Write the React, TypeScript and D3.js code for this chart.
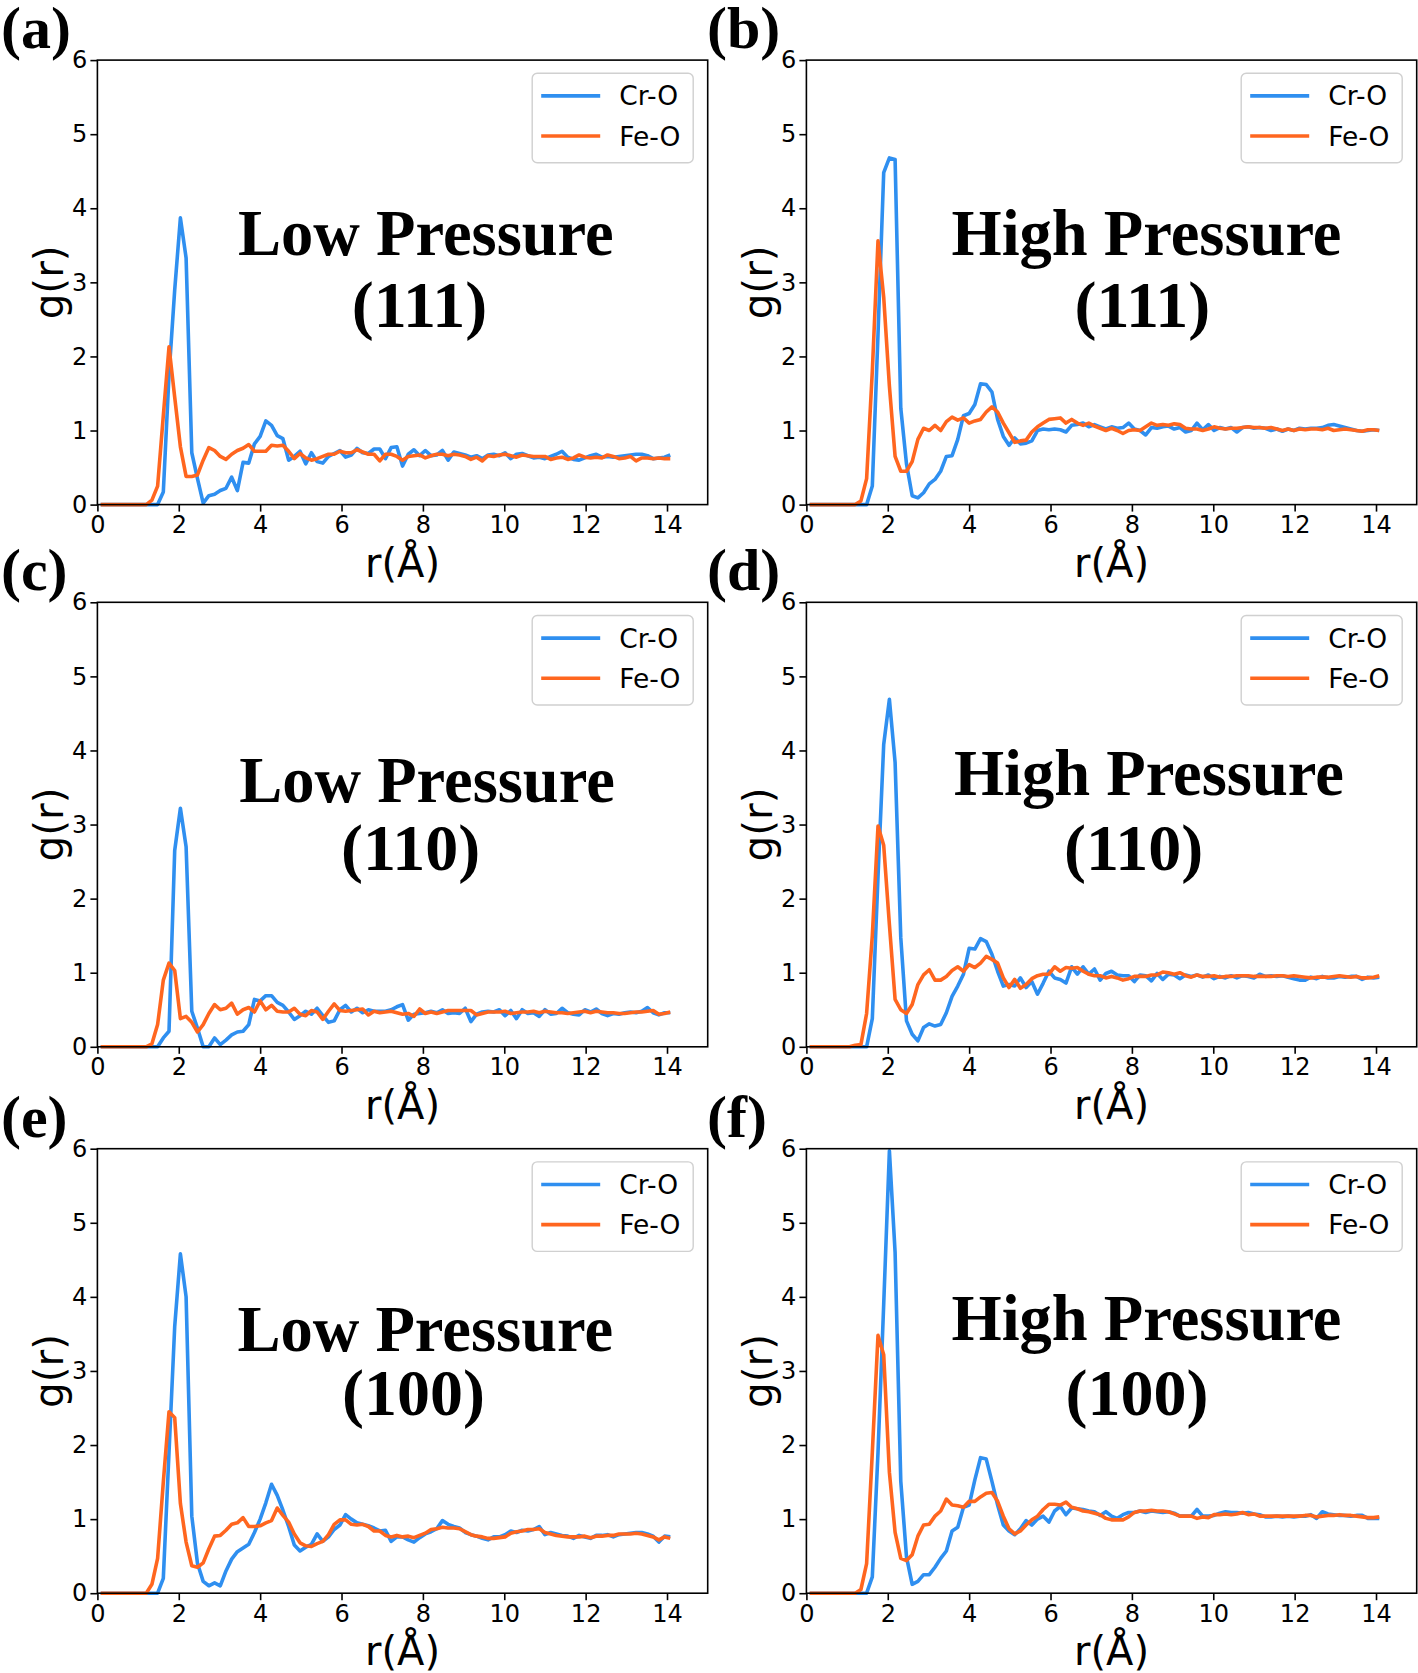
import React, { useEffect, useRef } from 'react';
import * as d3 from 'd3';

// radial grid of the g(r) histograms (bin spacing 0.14 Å)
const rGrid = d3.range(101).map((i) => +(0.08 + 0.14 * i).toFixed(2));

// (a) Low Pressure (111)
const crO_a = [
  0, 0, 0, 0, 0, 0, 0, 0, 0, 0,
  0, 0.17, 1.75, 2.9, 3.87, 3.33, 0.7, 0.35, 0.02, 0.12,
  0.14, 0.19, 0.22, 0.37, 0.19, 0.57, 0.56, 0.82, 0.92, 1.13,
  1.07, 0.93, 0.89, 0.6, 0.65, 0.72, 0.55, 0.7, 0.58, 0.56,
  0.65, 0.69, 0.73, 0.64, 0.67, 0.76, 0.7, 0.69, 0.75, 0.75,
  0.62, 0.77, 0.78, 0.52, 0.68, 0.74, 0.66, 0.73, 0.66, 0.67,
  0.73, 0.6, 0.71, 0.69, 0.67, 0.64, 0.66, 0.62, 0.67, 0.68,
  0.66, 0.7, 0.62, 0.68, 0.69, 0.66, 0.63, 0.64, 0.62, 0.65,
  0.68, 0.72, 0.64, 0.61, 0.6, 0.63, 0.66, 0.68, 0.64, 0.65,
  0.64, 0.65, 0.66, 0.67, 0.68, 0.68, 0.66, 0.62, 0.63, 0.64,
  0.67,
];
const feO_a = [
  0, 0, 0, 0, 0, 0, 0, 0, 0, 0.06,
  0.25, 1.2, 2.13, 1.45, 0.78, 0.38, 0.38, 0.4, 0.6, 0.77,
  0.73, 0.65, 0.61, 0.68, 0.73, 0.76, 0.81, 0.72, 0.72, 0.72,
  0.8, 0.79, 0.8, 0.72, 0.62, 0.69, 0.63, 0.6, 0.62, 0.65,
  0.68, 0.68, 0.72, 0.7, 0.7, 0.74, 0.71, 0.68, 0.68, 0.59,
  0.68, 0.68, 0.65, 0.6, 0.65, 0.66, 0.67, 0.63, 0.66, 0.68,
  0.68, 0.66, 0.68, 0.67, 0.65, 0.61, 0.64, 0.59, 0.66, 0.65,
  0.67, 0.68, 0.66, 0.64, 0.67, 0.66, 0.65, 0.65, 0.65, 0.61,
  0.63, 0.64, 0.61, 0.63, 0.67, 0.64, 0.63, 0.64, 0.63, 0.67,
  0.65, 0.62, 0.63, 0.65, 0.59, 0.63, 0.63, 0.62, 0.63, 0.62,
  0.62,
];

// (b) High Pressure (111)
const crO_b = [
  0, 0, 0, 0, 0, 0, 0, 0, 0, 0,
  0, 0.25, 2.3, 4.48, 4.68, 4.66, 1.3, 0.55, 0.12, 0.09,
  0.16, 0.28, 0.34, 0.45, 0.65, 0.66, 0.88, 1.2, 1.23, 1.35,
  1.63, 1.62, 1.52, 1.15, 0.92, 0.8, 0.9, 0.82, 0.83, 0.86,
  1.0, 1.02, 1.01, 1.02, 1.01, 0.98, 1.07, 1.08, 1.1, 1.05,
  1.08, 1.05, 1.02, 1.05, 1.03, 1.04, 1.1, 1.02, 1.0, 0.94,
  1.04, 1.03, 1.05, 1.06, 1.02, 1.04, 0.98, 1.0, 1.1, 1.01,
  1.08, 1.0, 1.04, 1.02, 1.04, 0.98, 1.04, 1.05, 1.03, 1.04,
  1.03, 1.0, 1.02, 0.99, 1.02, 1.0, 1.03, 1.02, 1.03, 1.03,
  1.04, 1.07, 1.08, 1.06, 1.04, 1.02, 1.0, 0.99, 1.0, 1.01,
  1.0,
];
const feO_b = [
  0, 0, 0, 0, 0, 0, 0, 0, 0, 0.05,
  0.35, 1.8, 3.56, 2.8, 1.6, 0.65, 0.45, 0.45, 0.58, 0.88,
  1.03, 1.0, 1.07, 1.0, 1.12, 1.18, 1.14, 1.17, 1.1, 1.13,
  1.15, 1.25, 1.32, 1.25, 1.1, 0.97, 0.84, 0.86, 0.87, 0.98,
  1.05, 1.1, 1.15, 1.16, 1.17, 1.1, 1.15, 1.1, 1.07, 1.1,
  1.06, 1.03, 1.0, 1.03, 1.0, 0.96, 1.0, 1.01, 1.0, 1.05,
  1.1, 1.07, 1.08, 1.07, 1.09, 1.08, 1.03, 1.02, 1.02, 1.0,
  1.02, 1.05, 1.03, 1.02, 1.03, 1.03, 1.04, 1.05, 1.04, 1.04,
  1.03, 1.04, 1.02, 1.0, 1.02, 1.0, 1.02, 1.01, 1.02, 1.02,
  1.01, 1.03, 1.0, 1.01, 1.02, 1.01, 1.0, 0.99, 1.01, 1.01,
  1.0,
];

// (c) Low Pressure (110)
const crO_c = [
  0, 0, 0, 0, 0, 0, 0, 0, 0, 0,
  0, 0.12, 0.21, 2.65, 3.22, 2.7, 0.48, 0.25, 0, 0,
  0.12, 0.03, 0.09, 0.16, 0.2, 0.21, 0.3, 0.64, 0.62, 0.69,
  0.69, 0.6, 0.56, 0.47, 0.37, 0.42, 0.48, 0.44, 0.52, 0.42,
  0.33, 0.35, 0.5, 0.56, 0.47, 0.52, 0.46, 0.5, 0.48, 0.48,
  0.48, 0.5, 0.54, 0.57, 0.36, 0.44, 0.45, 0.46, 0.48, 0.46,
  0.5, 0.45, 0.46, 0.45, 0.52, 0.34, 0.44, 0.47, 0.48, 0.47,
  0.5, 0.42, 0.49, 0.38, 0.5, 0.45, 0.46, 0.41, 0.5, 0.44,
  0.45, 0.52, 0.46, 0.44, 0.43, 0.5, 0.47, 0.51, 0.45, 0.42,
  0.45, 0.44, 0.46, 0.47, 0.46, 0.48, 0.53, 0.46, 0.43, 0.46,
  0.46,
];
const feO_c = [
  0, 0, 0, 0, 0, 0, 0, 0, 0, 0.04,
  0.3, 0.9, 1.13, 1.03, 0.38, 0.41, 0.33, 0.2, 0.3, 0.45,
  0.57, 0.5, 0.52, 0.59, 0.44, 0.5, 0.53, 0.47, 0.62, 0.5,
  0.56, 0.48, 0.47, 0.47, 0.52, 0.44, 0.42, 0.49, 0.47, 0.37,
  0.48, 0.58, 0.49, 0.48, 0.49, 0.5, 0.51, 0.43, 0.48, 0.46,
  0.47, 0.48, 0.46, 0.44, 0.45, 0.41, 0.51, 0.45, 0.47, 0.45,
  0.47, 0.49, 0.49, 0.49, 0.49, 0.49, 0.43, 0.45, 0.47, 0.47,
  0.47, 0.48, 0.45, 0.46, 0.47, 0.47, 0.48, 0.46, 0.48, 0.47,
  0.46, 0.46, 0.45, 0.46, 0.47, 0.48, 0.46, 0.48, 0.47, 0.46,
  0.46, 0.45, 0.45, 0.46, 0.47, 0.47, 0.48, 0.49, 0.44, 0.45,
  0.47,
];

// (d) High Pressure (110)
const crO_d = [
  0, 0, 0, 0, 0, 0, 0, 0, 0, 0,
  0, 0.38, 2.3, 4.08, 4.69, 3.84, 1.47, 0.35, 0.17, 0.08,
  0.26, 0.31, 0.28, 0.3, 0.46, 0.68, 0.82, 0.98, 1.33, 1.32,
  1.46, 1.42, 1.25, 1.02, 0.82, 0.84, 0.82, 0.93, 0.8, 0.88,
  0.71, 0.86, 1.02, 0.93, 0.91, 0.86, 1.08, 0.98, 1.08, 0.98,
  1.05, 0.9, 0.99, 1.02, 0.97, 0.96, 0.96, 0.88, 0.97, 0.96,
  0.89, 0.99, 0.91, 0.98, 0.97, 0.92, 0.97, 0.95, 0.97, 0.94,
  0.97, 0.92, 0.95, 0.93, 0.96, 0.93, 0.96, 0.95, 0.93, 0.98,
  0.95, 0.96, 0.95, 0.96, 0.94, 0.92, 0.9, 0.9, 0.94, 0.92,
  0.95, 0.93, 0.93, 0.95, 0.94, 0.95, 0.95, 0.91, 0.94, 0.93,
  0.94,
];
const feO_d = [
  0, 0, 0, 0, 0, 0, 0, 0, 0.02, 0.03,
  0.45, 1.5, 2.98, 2.72, 1.65, 0.64, 0.5, 0.45, 0.57, 0.84,
  0.97, 1.04, 0.9, 0.9, 0.95, 1.03, 1.08, 1.02, 1.11, 1.07,
  1.13, 1.22, 1.18, 1.13, 0.93, 0.8, 0.91, 0.79, 0.84, 0.92,
  0.96, 0.98, 0.98, 1.08, 1.02, 1.07, 1.06, 1.07, 1.02, 0.98,
  0.96, 0.96, 0.93, 0.95, 0.93, 0.9, 0.92, 0.95, 0.95, 0.95,
  0.97, 0.97, 1.01, 1.0, 0.98, 1.0, 0.96, 0.94, 0.97, 0.95,
  0.95, 0.96, 0.94, 0.95, 0.95, 0.96, 0.96, 0.96, 0.95, 0.95,
  0.95, 0.95, 0.96, 0.96, 0.95, 0.96, 0.95, 0.94, 0.93, 0.94,
  0.94, 0.94, 0.95, 0.96, 0.95, 0.94, 0.95, 0.93, 0.93, 0.94,
  0.96,
];

// (e) Low Pressure (100)
const crO_e = [
  0, 0, 0, 0, 0, 0, 0, 0, 0, 0,
  0, 0.2, 1.9, 3.6, 4.58, 4.0, 1.04, 0.4, 0.16, 0.1,
  0.14, 0.1, 0.3, 0.46, 0.56, 0.61, 0.66, 0.82, 1.0, 1.22,
  1.47, 1.32, 1.12, 0.9, 0.65, 0.57, 0.62, 0.66, 0.8, 0.7,
  0.76, 0.86, 0.92, 1.06, 1.0, 0.95, 0.93, 0.91, 0.88, 0.84,
  0.85, 0.7, 0.76, 0.76, 0.72, 0.69, 0.75, 0.8, 0.83, 0.87,
  0.98, 0.93, 0.9, 0.88, 0.82, 0.79, 0.77, 0.74, 0.72, 0.76,
  0.76, 0.79, 0.84, 0.82, 0.85, 0.84, 0.86, 0.9, 0.79, 0.82,
  0.8, 0.78, 0.77, 0.74, 0.78, 0.76, 0.74, 0.78, 0.78, 0.79,
  0.76, 0.79, 0.8, 0.81, 0.82, 0.82, 0.8, 0.77, 0.69, 0.77,
  0.76,
];
const feO_e = [
  0, 0, 0, 0, 0, 0, 0, 0, 0, 0.12,
  0.47, 1.5, 2.45, 2.37, 1.21, 0.69, 0.37, 0.35, 0.41, 0.6,
  0.77, 0.78, 0.85, 0.93, 0.95, 1.02, 0.9, 0.9, 0.91, 0.95,
  0.98, 1.15, 1.05, 0.96, 0.8, 0.68, 0.64, 0.63, 0.67, 0.7,
  0.79, 0.93, 0.99, 0.99, 0.93, 0.92, 0.93, 0.9, 0.84, 0.84,
  0.78, 0.76, 0.78, 0.76, 0.77, 0.75, 0.78, 0.81, 0.86, 0.87,
  0.89, 0.88, 0.88, 0.87, 0.83, 0.79, 0.77, 0.76, 0.74, 0.74,
  0.75, 0.76, 0.81, 0.83, 0.84, 0.86, 0.86, 0.87, 0.82, 0.8,
  0.78, 0.77, 0.76, 0.76, 0.76, 0.77, 0.75, 0.77, 0.77, 0.78,
  0.78, 0.8, 0.8, 0.8, 0.81, 0.8, 0.78, 0.76, 0.72, 0.76,
  0.74,
];

// (f) High Pressure (100)
const crO_f = [
  0, 0, 0, 0, 0, 0, 0, 0, 0, 0,
  0, 0.22, 1.9, 3.9, 5.97, 4.6, 1.51, 0.49, 0.12, 0.16,
  0.25, 0.25, 0.35, 0.47, 0.57, 0.84, 0.89, 1.16, 1.19, 1.53,
  1.83, 1.81, 1.51, 1.19, 0.92, 0.84, 0.79, 0.87, 0.98, 0.92,
  1.0, 1.04, 0.96, 1.11, 1.17, 1.06, 1.15, 1.14, 1.13, 1.11,
  1.1, 1.05, 1.1, 1.04, 1.01, 1.06, 1.09, 1.09, 1.11, 1.09,
  1.11, 1.1, 1.09, 1.1, 1.08, 1.04, 1.04, 1.04, 1.13, 1.04,
  1.04, 1.05, 1.08, 1.1, 1.09, 1.09, 1.08, 1.09, 1.07, 1.06,
  1.03, 1.03, 1.04, 1.03, 1.04, 1.03, 1.04, 1.04, 1.06, 1.01,
  1.1, 1.07, 1.06, 1.05, 1.05, 1.04, 1.05, 1.05, 1.01, 1.01,
  1.01,
];
const feO_f = [
  0, 0, 0, 0, 0, 0, 0, 0, 0, 0.05,
  0.4, 1.9, 3.48, 3.22, 1.63, 0.82, 0.47, 0.44, 0.52, 0.77,
  0.92, 0.93, 1.04, 1.11, 1.27, 1.19, 1.18, 1.16, 1.24, 1.24,
  1.3, 1.35, 1.36, 1.24, 1.04, 0.87, 0.8, 0.84, 0.92, 0.99,
  1.04, 1.13, 1.2, 1.2, 1.19, 1.23, 1.16, 1.14, 1.11, 1.1,
  1.08, 1.06, 1.01, 0.99, 0.99, 0.99, 1.03, 1.09, 1.11, 1.11,
  1.12, 1.11, 1.11, 1.1, 1.07, 1.04, 1.04, 1.04, 1.01, 1.03,
  1.02, 1.06, 1.06, 1.07, 1.06, 1.07, 1.09, 1.06, 1.07, 1.04,
  1.04, 1.04, 1.04, 1.04, 1.04, 1.04, 1.04, 1.05, 1.05, 1.03,
  1.04, 1.05, 1.05, 1.06, 1.05, 1.05, 1.04, 1.03, 1.02, 1.02,
  1.03,
];

const panelLetters = ['(a)', '(b)', '(c)', '(d)', '(e)', '(f)'];
const titleLine1 = ['Low Pressure', 'High Pressure', 'Low Pressure', 'High Pressure', 'Low Pressure', 'High Pressure'];
const titleLine2 = ['(111)', '(111)', '(110)', '(110)', '(100)', '(100)'];
const seriesNames = ['Cr-O', 'Fe-O'];
const xTicks = [0, 2, 4, 6, 8, 10, 12, 14];
const yTicks = [0, 1, 2, 3, 4, 5, 6];

const crOSeries = [crO_a, crO_b, crO_c, crO_d, crO_e, crO_f];
const feOSeries = [feO_a, feO_b, feO_c, feO_d, feO_e, feO_f];

// layout (px)
const colLeft = [97.4, 806.4];
const rowTop = [60.1, 602.3, 1148.7];
const W = 610.3;
const H = 444.5;
// [line1 cx, line1 baseline, line2 cx, line2 baseline] relative to axes
const titlePos = [
  [328.5, 194.6, 322.1, 267.3],
  [340.1, 194.6, 336.0, 267.3],
  [329.6, 199.4, 313.3, 267.7],
  [342.5, 192.7, 327.3, 267.7],
  [327.9, 202.0, 316.1, 266.2],
  [340.1, 191.1, 330.6, 266.2],
];
const colors = ['#2f8ff0', '#ff661f'];
const sans = 'DejaVu Sans';
const serif = 'Liberation Serif';

const App = () => {
  const ref = useRef<SVGSVGElement>(null);

  useEffect(() => {
    const svg = d3.select(ref.current);
    svg.selectAll('*').remove();

    panelLetters.forEach((letter, k) => {
      const col = k % 2;
      const row = Math.floor(k / 2);
      const g = svg
        .append('g')
        .attr('transform', 'translate(' + colLeft[col] + ',' + rowTop[row] + ')');

      const x = d3.scaleLinear().domain([0, 15]).range([0, W]);
      const y = d3.scaleLinear().domain([0, 6]).range([H, 0]);

      // X axis
      const xAxis = g
        .append('g')
        .attr('transform', 'translate(0,' + H + ')')
        .call(d3.axisBottom(x).tickValues(xTicks).tickSize(7).tickPadding(4.5).tickFormat(d3.format('d')));
      xAxis.select('.domain').remove();
      xAxis.attr('font-family', sans).attr('font-size', 24);
      xAxis.selectAll('line').attr('stroke', '#000').attr('stroke-width', 1.6);
      xAxis.selectAll('text').attr('fill', '#000');

      // Y axis
      const yAxis = g
        .append('g')
        .call(d3.axisLeft(y).tickValues(yTicks).tickSize(7).tickPadding(3).tickFormat(d3.format('d')));
      yAxis.select('.domain').remove();
      yAxis.attr('font-family', sans).attr('font-size', 24);
      yAxis.selectAll('line').attr('stroke', '#000').attr('stroke-width', 1.6);
      yAxis.selectAll('text').attr('fill', '#000');

      // curves
      const line = d3
        .line<number>()
        .x((d, i) => x(rGrid[i]))
        .y((d) => y(d));
      [crOSeries[k], feOSeries[k]].forEach((vals, s) => {
        g.append('path')
          .datum(vals)
          .attr('d', line)
          .attr('fill', 'none')
          .attr('stroke', colors[s])
          .attr('stroke-width', 3.6)
          .attr('stroke-linejoin', 'round');
      });

      // frame
      g.append('rect')
        .attr('width', W)
        .attr('height', H)
        .attr('fill', 'none')
        .attr('stroke', '#000')
        .attr('stroke-width', 1.6);

      // legend
      const lg = g.append('g').attr('transform', 'translate(' + (W - 14.5 - 161) + ',13.2)');
      lg.append('rect')
        .attr('width', 161)
        .attr('height', 89.5)
        .attr('rx', 5)
        .attr('fill', '#fff')
        .attr('fill-opacity', 0.8)
        .attr('stroke', '#d0d0d0')
        .attr('stroke-width', 1.4);
      seriesNames.forEach((name, s) => {
        const ly = 22.6 + s * 40.1;
        lg.append('line')
          .attr('x1', 9)
          .attr('x2', 68)
          .attr('y1', ly)
          .attr('y2', ly)
          .attr('stroke', colors[s])
          .attr('stroke-width', 3.6);
        lg.append('text')
          .attr('x', 87)
          .attr('y', ly)
          .attr('dy', '0.36em')
          .attr('font-family', sans)
          .attr('font-size', 26.5)
          .text(name);
      });

      // title
      const tp = titlePos[k];
      g.append('text')
        .attr('x', tp[0])
        .attr('y', tp[1])
        .attr('text-anchor', 'middle')
        .attr('font-family', serif)
        .attr('font-weight', 'bold')
        .attr('font-size', 64.5)
        .text(titleLine1[k]);
      g.append('text')
        .attr('x', tp[2])
        .attr('y', tp[3])
        .attr('text-anchor', 'middle')
        .attr('font-family', serif)
        .attr('font-weight', 'bold')
        .attr('font-size', 66)
        .text(titleLine2[k]);

      // axis labels
      g.append('text')
        .attr('x', W / 2)
        .attr('y', H + 72)
        .attr('text-anchor', 'middle')
        .attr('font-family', sans)
        .attr('font-size', 40)
        .text('r(Å)');
      g.append('text')
        .attr('transform', 'translate(-34,' + H / 2 + ') rotate(-90)')
        .attr('text-anchor', 'middle')
        .attr('font-family', sans)
        .attr('font-size', 40.5)
        .text('g(r)');

      // panel letter
      svg
        .append('text')
        .attr('x', col === 0 ? 1 : 707)
        .attr('y', rowTop[row] - 12)
        .attr('font-family', serif)
        .attr('font-weight', 'bold')
        .attr('font-size', 60)
        .text(letter);
    });
  }, []);

  return (
    <svg
      ref={ref}
      width={1418}
      height={1673}
      style={{ position: 'absolute', left: 0, top: 0, background: '#fff' }}
    />
  );
};

export default App;
